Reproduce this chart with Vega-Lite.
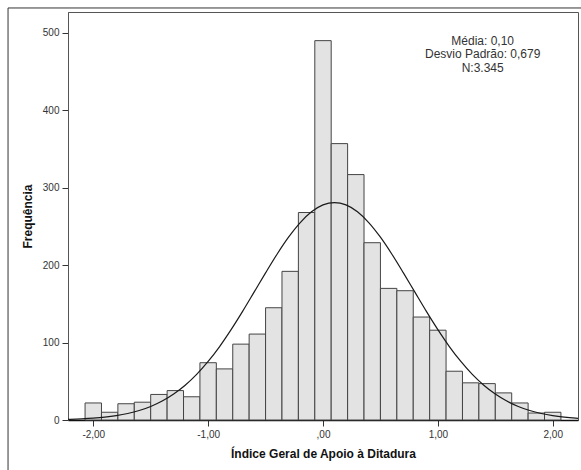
{
  "$schema": "https://vega.github.io/schema/vega-lite/v6.json",
  "autosize": {"type": "none"},
  "width": 510,
  "height": 408,
  "padding": {"left": 68, "top": 12, "right": 3, "bottom": 50},
  "background": "white",
  "config": {
    "font": "Liberation Sans",
    "view": {"stroke": "#555", "strokeWidth": 1},
    "axis": {"grid": false, "labelFont": "Liberation Sans", "titleFont": "Liberation Sans", "labelColor": "#333", "titleColor": "#111", "tickColor": "#333", "labelFontSize": 10, "titleFontSize": 12, "titleFontWeight": "bold"}
  },
  "datasets": {
    "bars": [
      {"lo": -2.0714, "hi": -1.9286, "freq": 22},
      {"lo": -1.9286, "hi": -1.7857, "freq": 10},
      {"lo": -1.7857, "hi": -1.6429, "freq": 21},
      {"lo": -1.6429, "hi": -1.5, "freq": 23},
      {"lo": -1.5, "hi": -1.3571, "freq": 33},
      {"lo": -1.3571, "hi": -1.2143, "freq": 38},
      {"lo": -1.2143, "hi": -1.0714, "freq": 30},
      {"lo": -1.0714, "hi": -0.9286, "freq": 74},
      {"lo": -0.9286, "hi": -0.7857, "freq": 66},
      {"lo": -0.7857, "hi": -0.6429, "freq": 98},
      {"lo": -0.6429, "hi": -0.5, "freq": 111},
      {"lo": -0.5, "hi": -0.3571, "freq": 145},
      {"lo": -0.3571, "hi": -0.2143, "freq": 192},
      {"lo": -0.2143, "hi": -0.0714, "freq": 268},
      {"lo": -0.0714, "hi": 0.0714, "freq": 490},
      {"lo": 0.0714, "hi": 0.2143, "freq": 357},
      {"lo": 0.2143, "hi": 0.3571, "freq": 317},
      {"lo": 0.3571, "hi": 0.5, "freq": 229},
      {"lo": 0.5, "hi": 0.6429, "freq": 170},
      {"lo": 0.6429, "hi": 0.7857, "freq": 167},
      {"lo": 0.7857, "hi": 0.9286, "freq": 133},
      {"lo": 0.9286, "hi": 1.0714, "freq": 116},
      {"lo": 1.0714, "hi": 1.2143, "freq": 63},
      {"lo": 1.2143, "hi": 1.3571, "freq": 48},
      {"lo": 1.3571, "hi": 1.5, "freq": 47},
      {"lo": 1.5, "hi": 1.6429, "freq": 35},
      {"lo": 1.6429, "hi": 1.7857, "freq": 22},
      {"lo": 1.7857, "hi": 1.9286, "freq": 9},
      {"lo": 1.9286, "hi": 2.0714, "freq": 10}
    ],
    "curve": [
      {"x": -2.22, "y": 0.82}, {"x": -2.2, "y": 0.9}, {"x": -2.1, "y": 1.47}, {"x": -2.0, "y": 2.35},
      {"x": -1.9, "y": 3.66}, {"x": -1.8, "y": 5.6}, {"x": -1.7, "y": 8.36}, {"x": -1.6, "y": 12.21},
      {"x": -1.5, "y": 17.48}, {"x": -1.4, "y": 24.47}, {"x": -1.3, "y": 33.53}, {"x": -1.2, "y": 44.9},
      {"x": -1.1, "y": 58.91}, {"x": -1.0, "y": 75.63}, {"x": -0.9, "y": 94.9}, {"x": -0.8, "y": 116.7},
      {"x": -0.7, "y": 140.3}, {"x": -0.6, "y": 165.1}, {"x": -0.5, "y": 190.0}, {"x": -0.4, "y": 214.1},
      {"x": -0.3, "y": 236.1}, {"x": -0.2, "y": 254.7}, {"x": -0.1, "y": 268.9}, {"x": 0.0, "y": 277.8},
      {"x": 0.1, "y": 280.8}, {"x": 0.2, "y": 277.8}, {"x": 0.3, "y": 268.9}, {"x": 0.4, "y": 254.7},
      {"x": 0.5, "y": 236.1}, {"x": 0.6, "y": 214.1}, {"x": 0.7, "y": 190.0}, {"x": 0.8, "y": 165.1},
      {"x": 0.9, "y": 140.3}, {"x": 1.0, "y": 116.7}, {"x": 1.1, "y": 94.9}, {"x": 1.2, "y": 75.63},
      {"x": 1.3, "y": 58.91}, {"x": 1.4, "y": 44.9}, {"x": 1.5, "y": 33.53}, {"x": 1.6, "y": 24.47},
      {"x": 1.7, "y": 17.48}, {"x": 1.8, "y": 12.21}, {"x": 1.9, "y": 8.36}, {"x": 2.0, "y": 5.6},
      {"x": 2.1, "y": 3.66}, {"x": 2.2, "y": 2.35}, {"x": 2.22, "y": 2.15}
    ]
  },
  "layer": [
    {
      "data": {"name": "bars"},
      "mark": {"type": "rect", "fill": "#e3e3e3", "stroke": "#444", "strokeWidth": 1},
      "encoding": {
        "x": {
          "field": "lo", "type": "quantitative",
          "scale": {"domain": [-2.22, 2.22], "nice": false, "zero": false},
          "axis": {
            "title": "Índice Geral de Apoio à Ditadura",
            "values": [-2, -1, 0, 1, 2],
            "labelExpr": "datum.value == 0 ? ',00' : (datum.value < 0 ? '-' : '') + abs(datum.value) + ',00'",
            "tickSize": 6, "labelPadding": 3, "titlePadding": 9,
            "domainColor": "#111", "domainWidth": 1.5
          }
        },
        "x2": {"field": "hi"},
        "y": {
          "field": "freq", "type": "quantitative",
          "scale": {"domain": [0, 527], "nice": false},
          "axis": {
            "title": "Frequência",
            "values": [0, 100, 200, 300, 400, 500],
            "format": "d",
            "tickSize": 6, "labelPadding": 3, "titlePadding": 8,
            "domainColor": "#555"
          }
        },
        "y2": {"datum": 0}
      }
    },
    {
      "data": {"name": "curve"},
      "mark": {"type": "line", "color": "#1a1a1a", "strokeWidth": 1.2, "interpolate": "monotone"},
      "encoding": {
        "x": {"field": "x", "type": "quantitative"},
        "y": {"field": "y", "type": "quantitative"}
      }
    },
    {
      "data": {"values": [{"label": "stats"}]},
      "mark": {"type": "text", "align": "center", "baseline": "top", "fontSize": 12, "lineHeight": 13.3, "color": "#333", "font": "Liberation Sans"},
      "encoding": {
        "x": {"datum": 1.39, "type": "quantitative"},
        "y": {"datum": 496, "type": "quantitative"},
        "text": {"value": ["Média: 0,10", "Desvio Padrão: 0,679", "N:3.345"]}
      }
    },
    {
      "data": {"values": [{"label": "frame"}]},
      "mark": {"type": "rule", "color": "#333", "strokeWidth": 1},
      "encoding": {
        "x": {"datum": -2.742, "type": "quantitative"},
        "y": {"datum": 532.2, "type": "quantitative"},
        "y2": {"datum": -80}
      }
    },
    {
      "data": {"values": [{"label": "frame"}]},
      "mark": {"type": "rule", "color": "#333", "strokeWidth": 1},
      "encoding": {
        "x": {"datum": -2.742, "type": "quantitative"},
        "x2": {"datum": 2.4},
        "y": {"datum": 532.2, "type": "quantitative"}
      }
    }
  ]
}
